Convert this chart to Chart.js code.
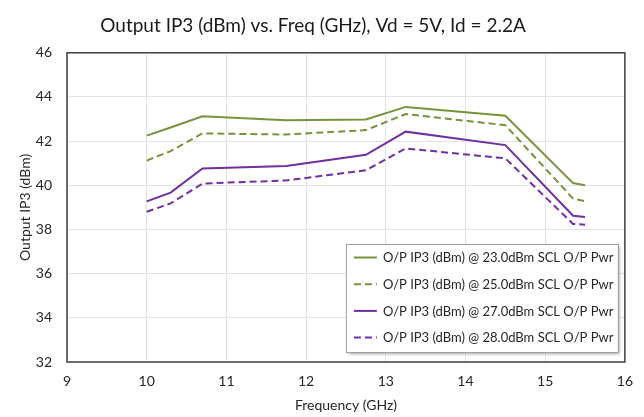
<!DOCTYPE html>
<html>
<head>
<meta charset="utf-8">
<script src="https://cdn.jsdelivr.net/npm/chart.js@4.4.1/dist/chart.umd.min.js"></script>
<style>
    html, body { margin: 0; padding: 0; background: #fff; }
    canvas { display: block; }
</style>
</head>
<body>
<canvas id="chart" width="644" height="417"></canvas>
<script>
const freqs = [10, 10.3, 10.7, 11.75, 12.75, 13.25, 14.5, 15.35, 15.5];
const ip3At23 = [42.25, 42.62, 43.13, 42.95, 42.98, 43.55, 43.15, 40.1, 40.0];
const ip3At25 = [41.12, 41.55, 42.35, 42.3, 42.5, 43.23, 42.72, 39.4, 39.28];
const ip3At27 = [39.27, 39.67, 40.76, 40.87, 41.38, 42.43, 41.82, 38.62, 38.56];
const ip3At28 = [38.8, 39.18, 40.08, 40.22, 40.68, 41.67, 41.22, 38.25, 38.22];
const seriesLabels = [
    'O/P IP3 (dBm) @ 23.0dBm SCL O/P Pwr',
    'O/P IP3 (dBm) @ 25.0dBm SCL O/P Pwr',
    'O/P IP3 (dBm) @ 27.0dBm SCL O/P Pwr',
    'O/P IP3 (dBm) @ 28.0dBm SCL O/P Pwr'
];
const xTicks = [9, 10, 11, 12, 13, 14, 15, 16];
const yTicks = [32, 34, 36, 38, 40, 42, 44, 46];

const green = '#77933c';
const purple = '#7030a0';
const dash = [7, 4];
const fontFamily = 'Lato, "Open Sans", sans-serif';

function points(values) {
    return freqs.map((f, i) => ({ x: f, y: values[i] }));
}

function makeDataset(label, values, color, dashed) {
    return {
        label: label,
        data: points(values),
        borderColor: color,
        backgroundColor: color,
        borderWidth: 2,
        borderDash: dashed ? dash : [],
        pointRadius: 0,
        tension: 0,
        fill: false
    };
}

// frame round the plot area and a boxed legend inside it
const framePlugin = {
    id: 'frame',
    afterDraw(chart) {
        const ctx = chart.ctx;
        const a = chart.chartArea;
        ctx.save();
        ctx.strokeStyle = '#404040';
        ctx.lineWidth = 1.5;
        ctx.strokeRect(a.left, a.top, a.right - a.left, a.bottom - a.top);

        const boxW = 272, boxH = 108;
        const bx = a.right - 7 - boxW;
        const by = a.bottom - 10 - boxH;
        ctx.shadowColor = 'rgba(0,0,0,0.35)';
        ctx.shadowBlur = 3;
        ctx.shadowOffsetX = 2;
        ctx.shadowOffsetY = 2;
        ctx.fillStyle = '#fff';
        ctx.fillRect(bx, by, boxW, boxH);
        ctx.shadowColor = 'transparent';
        ctx.strokeStyle = '#a0a0a0';
        ctx.lineWidth = 1;
        ctx.strokeRect(bx + 0.5, by + 0.5, boxW, boxH);

        ctx.font = '13px ' + fontFamily;
        ctx.textBaseline = 'middle';
        ctx.textAlign = 'left';
        chart.data.datasets.forEach((ds, i) => {
            const y = by + 13.5 + i * 26.7;
            ctx.beginPath();
            ctx.strokeStyle = ds.borderColor;
            ctx.lineWidth = 2;
            ctx.setLineDash(ds.borderDash);
            ctx.moveTo(bx + 8, y);
            ctx.lineTo(bx + 31, y);
            ctx.stroke();
            ctx.setLineDash([]);
            ctx.fillStyle = '#262626';
            ctx.fillText(ds.label, bx + 37, y + 0.5);
        });
        ctx.restore();
    }
};

new Chart(document.getElementById('chart'), {
    type: 'line',
    data: {
        datasets: [
            makeDataset(seriesLabels[0], ip3At23, green, false),
            makeDataset(seriesLabels[1], ip3At25, green, true),
            makeDataset(seriesLabels[2], ip3At27, purple, false),
            makeDataset(seriesLabels[3], ip3At28, purple, true)
        ]
    },
    options: {
        responsive: false,
        animation: false,
        events: [],
        layout: { padding: { top: 0, right: 18, bottom: 0, left: 0 } },
        plugins: {
            legend: { display: false },
            tooltip: { enabled: false },
            title: {
                display: true,
                text: 'Output IP3 (dBm) vs. Freq (GHz), Vd = 5V, Id = 2.2A',
                color: '#1a1a1a',
                font: { family: fontFamily, size: 19, weight: 'normal' },
                padding: { top: 14, bottom: 16 }
            }
        },
        scales: {
            x: {
                type: 'linear',
                min: xTicks[0],
                max: xTicks[xTicks.length - 1],
                afterBuildTicks(axis) { axis.ticks = xTicks.map(v => ({ value: v })); },
                afterFit(axis) { axis.height = 55; },
                grid: { color: '#e3e3e3', drawTicks: false },
                border: { display: false },
                ticks: {
                    color: '#262626',
                    padding: 11,
                    font: { family: fontFamily, size: 14 }
                },
                title: {
                    display: true,
                    text: 'Frequency (GHz)',
                    color: '#262626',
                    font: { family: fontFamily, size: 14 },
                    padding: { top: 0, bottom: 3 }
                }
            },
            y: {
                min: yTicks[0],
                max: yTicks[yTicks.length - 1],
                afterBuildTicks(axis) { axis.ticks = yTicks.map(v => ({ value: v })); },
                afterFit(axis) { axis.width = 67; },
                grid: { color: '#e3e3e3', drawTicks: false },
                border: { display: false },
                ticks: {
                    color: '#262626',
                    padding: 15,
                    font: { family: fontFamily, size: 14 }
                },
                title: {
                    display: true,
                    text: 'Output IP3 (dBm)',
                    color: '#262626',
                    font: { family: fontFamily, size: 14 },
                    padding: { top: 17, bottom: 0 }
                }
            }
        }
    },
    plugins: [framePlugin]
});
</script>
</body>
</html>
